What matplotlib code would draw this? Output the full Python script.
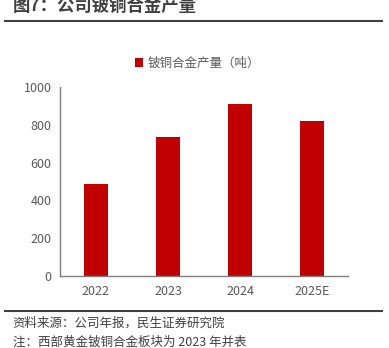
import matplotlib
matplotlib.use("Agg")
import matplotlib.pyplot as plt
from matplotlib.lines import Line2D

plt.rcParams['font.family'] = ['Noto Sans CJK SC', 'DejaVu Sans']

# 铍铜合金产量（吨）
years = ['2022', '2023', '2024', '2025E']
output = [488, 738, 911, 820]

red = '#c00000'
grey = '#595959'

fig = plt.figure(figsize=(3.89, 3.48), dpi=100)
ax = fig.add_axes([0.154, 0.208, 0.741, 0.541])

ax.bar(range(len(years)), output, width=0.33, color=red, label='铍铜合金产量（吨）')
ax.set_xlim(-0.5, len(years) - 0.5)
ax.set_ylim(0, 1000)
ax.set_yticks(range(0, 1001, 200))
ax.set_xticks(range(len(years)))
ax.set_xticklabels(years)

for s in ['top', 'right']:
    ax.spines[s].set_visible(False)
for s in ['left', 'bottom']:
    ax.spines[s].set_color('#7f7f7f')
    ax.spines[s].set_linewidth(1.0)
ax.tick_params(axis='both', length=0, labelsize=9, colors=grey, pad=6)
ax.tick_params(axis='x', pad=7)

ax.legend(loc='upper left', bbox_to_anchor=(0.22, 1.22), frameon=False,
          fontsize=9, handlelength=0.7, handleheight=0.7, handletextpad=0.3,
          labelcolor=grey)

# 标题与分隔线
fig.text(0.033, 0.982, '图7：公司铍铜合金产量', fontsize=12.5, fontweight='bold',
         color='#404040', va='center', ha='left')
fig.add_artist(Line2D([0.013, 0.982], [0.939, 0.939], color='#404040', lw=1.5))
fig.add_artist(Line2D([0.013, 0.982], [0.107, 0.107], color='#404040', lw=1.5))

fig.text(0.033, 0.071, '资料来源：公司年报，民生证券研究院', fontsize=9,
         color='#404040', va='center', ha='left')
fig.text(0.033, 0.018, '注：西部黄金铍铜合金板块为 2023 年并表', fontsize=9,
         color='#404040', va='center', ha='left')

fig.savefig('out.png', dpi=100)
